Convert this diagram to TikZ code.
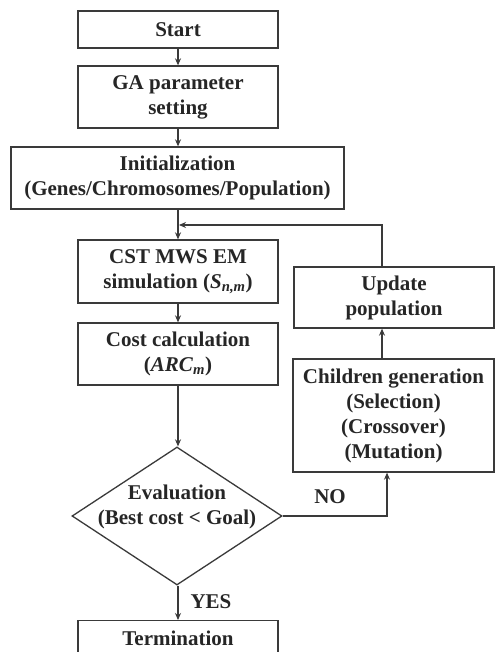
\documentclass[tikz,border=0pt]{standalone}
\usepackage{fontspec}
\setmainfont{Liberation Serif}
\usetikzlibrary{shapes.geometric,arrows.meta}
\definecolor{ln}{HTML}{3A3A3A}
\definecolor{tx}{HTML}{262626}
\tikzset{
  box/.style={draw=ln,line width=1.3pt,rectangle,inner sep=0pt,align=center,text=tx,
    font=\fontsize{21}{25}\selectfont\bfseries},
  lbl/.style={inner sep=0pt,text=tx,font=\fontsize{21}{25}\selectfont\bfseries},
  arr/.style={draw=ln,line width=1.3pt,-{Stealth[length=7pt,width=6pt]}},
  ln/.style={draw=ln,line width=1.3pt}
}
\begin{document}
\begin{tikzpicture}[x=1pt,y=-1pt]
\clip (0,0) rectangle (495,652);
\fill[white] (0,0) rectangle (495,652);
\node[box,minimum width=200pt,minimum height=37pt] (start) at (178,29.5) {Start};
\node[box,minimum width=200pt,minimum height=62pt] (ga) at (178,97) {GA parameter\\setting};
\node[box,minimum width=333pt,minimum height=62pt] (init) at (177.5,178) {Initialization\\(Genes/Chromosomes/Population)};
\node[box,minimum width=200pt,minimum height=63pt] (cst) at (178,271.5) {CST MWS EM\\simulation (\textit{S}\textsubscript{\textit{n,m}})};
\node[box,minimum width=200pt,minimum height=62pt] (cost) at (178,354) {Cost calculation\\(\textit{ARC}\textsubscript{\textit{m}})};
\node[box,minimum width=200pt,minimum height=61pt] (upd) at (394,297.5) {Update\\population};
\node[box,minimum width=201pt,minimum height=113pt] (child) at (393.5,415.5) {Children generation\\(Selection)\\(Crossover)\\(Mutation)};
\node[draw=ln,line width=1.3pt,diamond,minimum width=210pt,minimum height=138pt,inner sep=0pt] (eval) at (177,516) {};
\node[lbl,align=center] (evaltext) at (177,507) {Evaluation\\(Best cost < Goal)};
\node[box,minimum width=200pt,minimum height=40pt,anchor=north] (term) at (178,620) {};
\node[lbl] (termtext) at (178,638) {Termination};
\node[lbl] (no) at (330,497) {NO};
\node[lbl] (yes) at (211,602) {YES};
\coordinate (fb) at (382,225);
\coordinate (nocorner) at (387,516);
\draw[arr] (start.south) -- (ga.north);
\draw[arr] (ga.south) -- (ga.south |- init.north);
\draw[arr] (init.south -| cst.north) -- (cst.north);
\draw[arr] (cst.south) -- (cost.north);
\draw[arr] (cost.south) -- (cost.south |- eval.north);
\draw[arr] (eval.south -| term.north) -- (term.north);
\draw[arr] (eval.east) -- (nocorner) -- (nocorner |- child.south);
\draw[arr] (fb |- child.north) -- (fb |- upd.south);
\draw[arr] (fb |- upd.north) -- (fb) -- ([xshift=1pt]fb -| cst.north);
\end{tikzpicture}
\end{document}
